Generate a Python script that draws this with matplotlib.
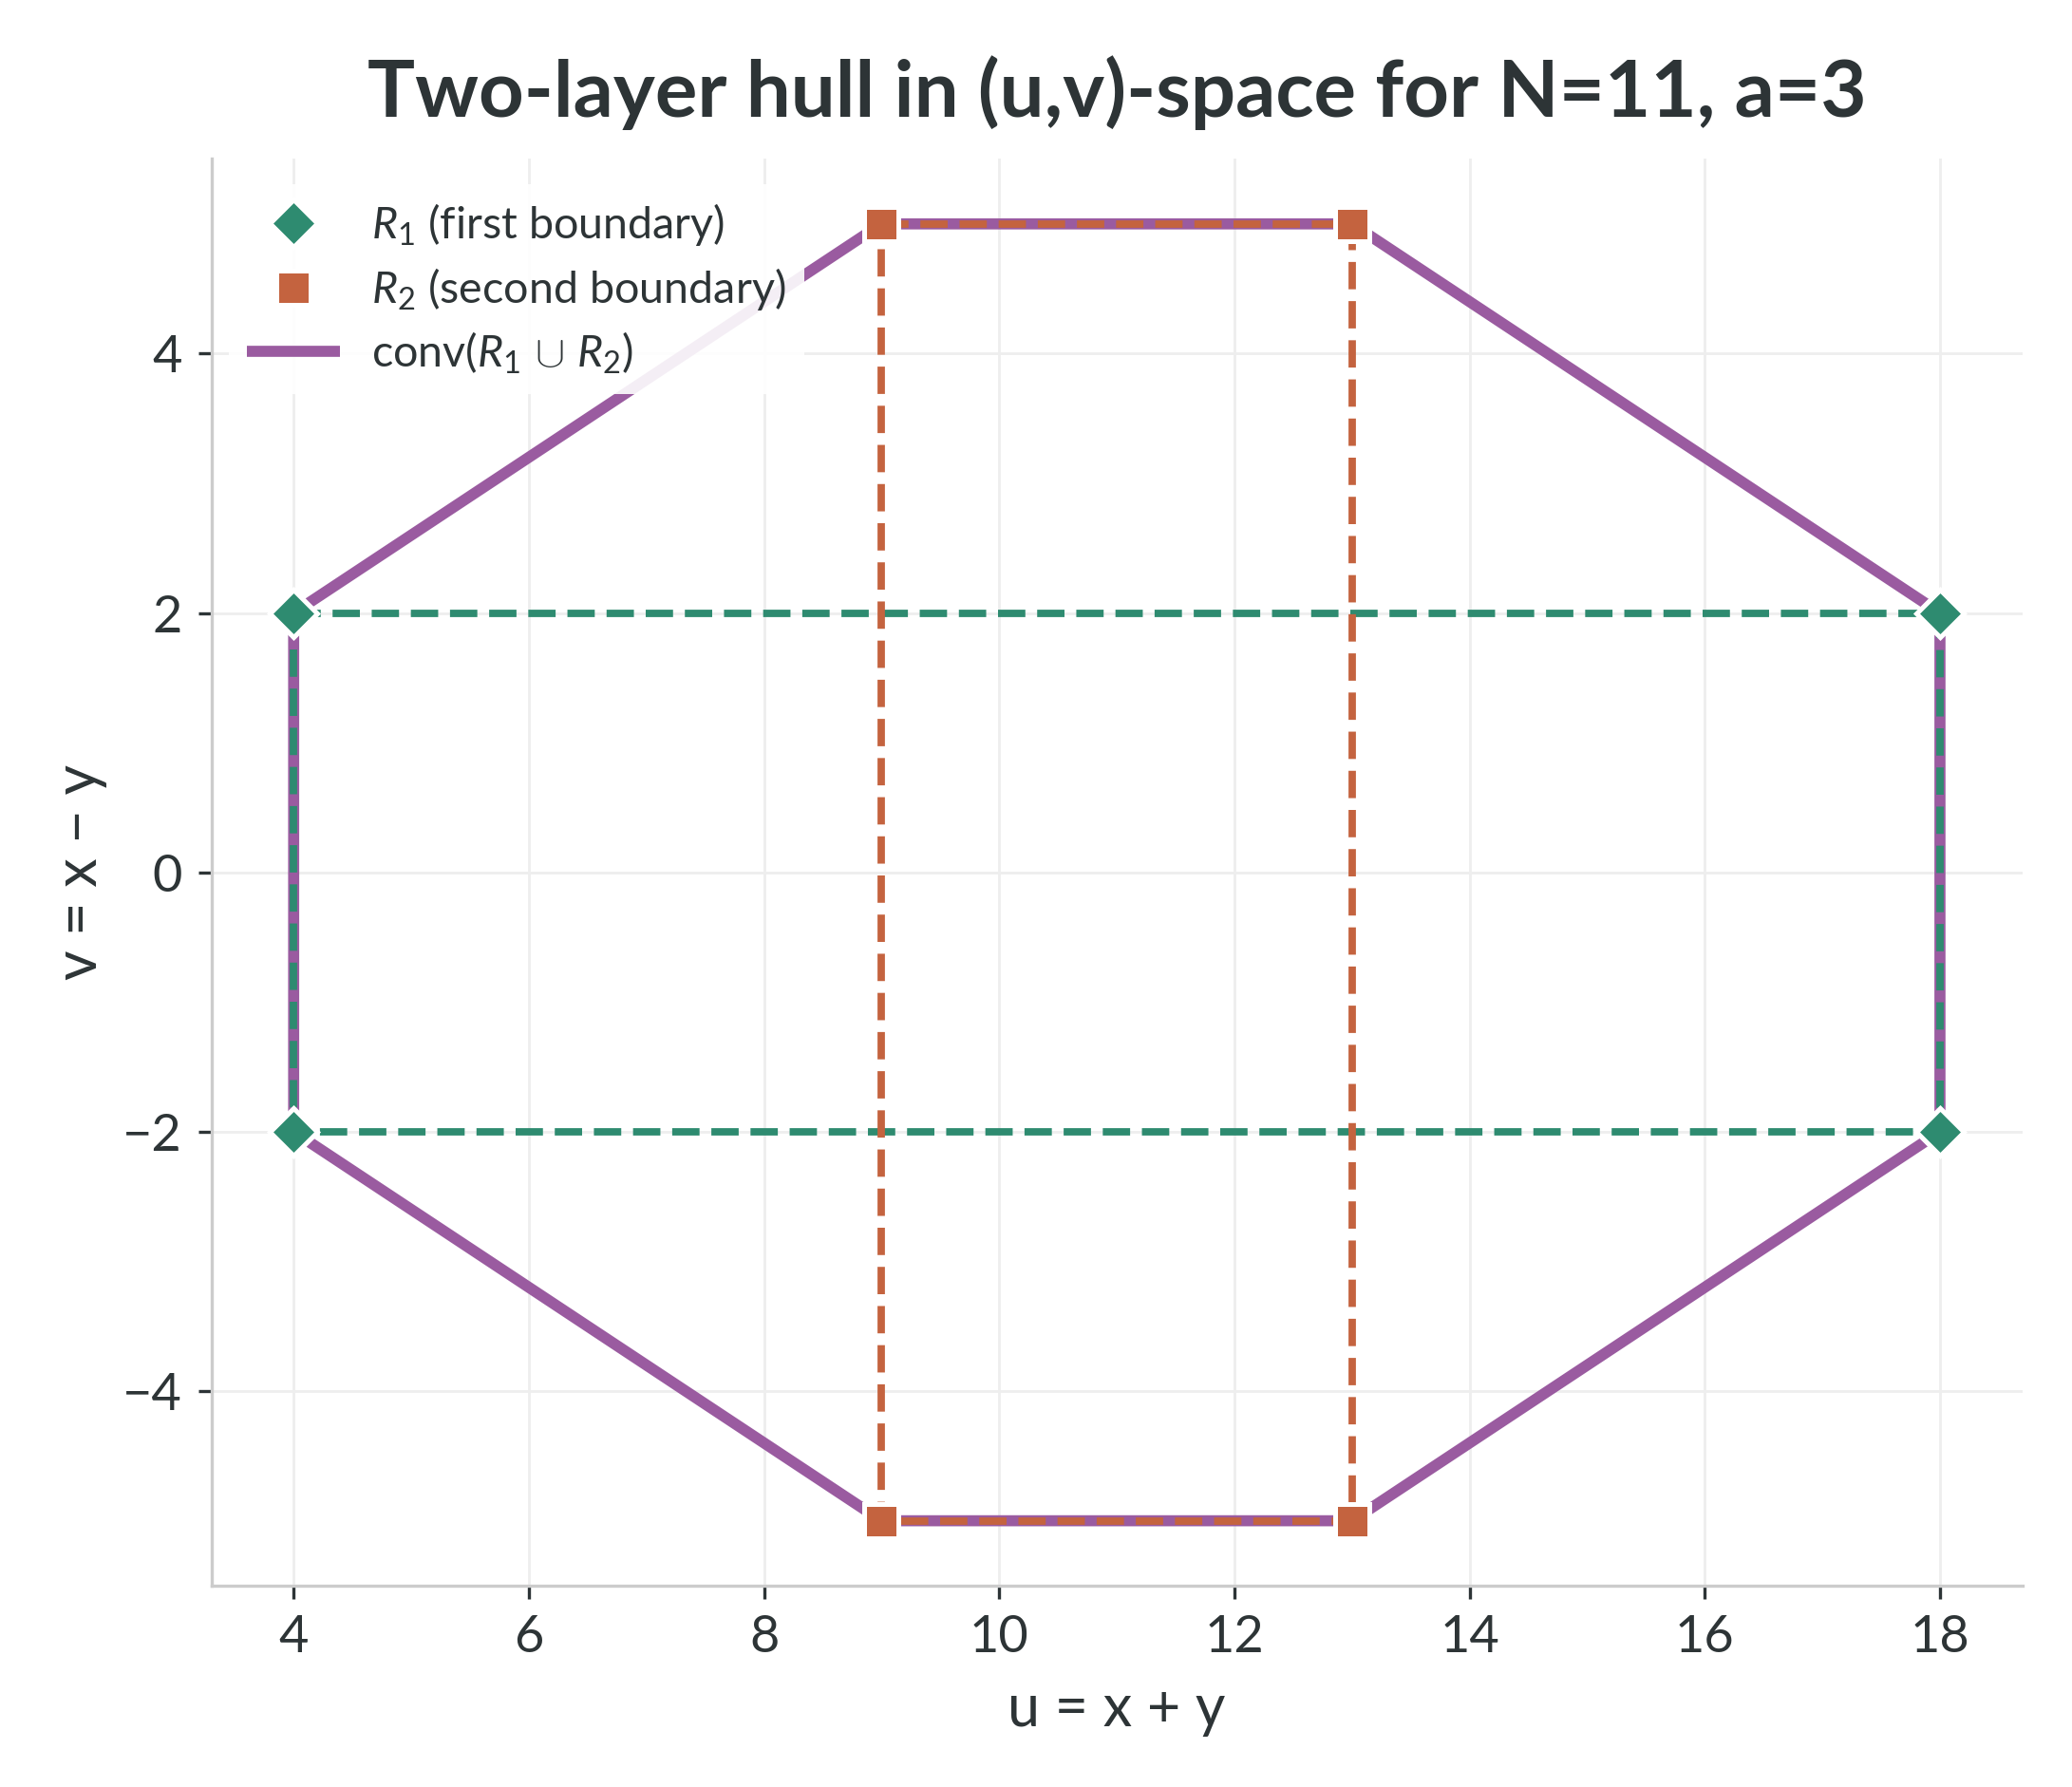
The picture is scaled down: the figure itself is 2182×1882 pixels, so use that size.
import matplotlib
matplotlib.use("Agg")
import matplotlib.pyplot as plt
import numpy as np

plt.rcParams['font.family'] = ['Lato', 'DejaVu Sans']
plt.rcParams['mathtext.fontset'] = 'custom'
plt.rcParams['mathtext.rm'] = 'Lato'
plt.rcParams['mathtext.it'] = 'Lato:italic'
plt.rcParams['mathtext.bf'] = 'Lato:bold'

TEXT = '#2d3436'
GREEN = '#2E8B70'
ORANGE = '#C4633F'
PURPLE = '#9A5BA0'

# first boundary R1 (u, v)
r1_u = [4, 18, 18, 4]
r1_v = [2, 2, -2, -2]
# second boundary R2
r2_u = [9, 13, 13, 9]
r2_v = [5, 5, -5, -5]
# convex hull of R1 u R2
hull_u = [4, 9, 13, 18, 18, 13, 9, 4]
hull_v = [-2, -5, -5, -2, 2, 5, 5, 2]

fig = plt.figure(figsize=(10.91, 9.41), dpi=200)
ax = fig.add_subplot(111)
fig.subplots_adjust(left=0.102, right=0.976, top=0.911, bottom=0.1127)

# hull
ax.plot(hull_u + hull_u[:1], hull_v + hull_v[:1], color=PURPLE, lw=4.2,
        solid_capstyle='butt', zorder=2, label=r'conv($R_1 \,\cup\, R_2$)')
# dashed rectangles
ax.plot(r1_u + r1_u[:1], r1_v + r1_v[:1], color=GREEN, lw=2.8, ls='--', zorder=3)
ax.plot(r2_u + r2_u[:1], r2_v + r2_v[:1], color=ORANGE, lw=2.8, ls='--', zorder=3)
# markers
ax.plot(r1_u, r1_v, ls='none', marker='D', ms=12.5, color=GREEN, mec='white',
        mew=1.8, zorder=5, label=r'$R_1$ (first boundary)')
ax.plot(r2_u, r2_v, ls='none', marker='s', ms=13, color=ORANGE, mec='white',
        mew=1.8, zorder=5, label=r'$R_2$ (second boundary)')

ax.set_xticks(np.arange(4, 19, 2))
ax.set_yticks([-4, -2, 0, 2, 4])
ax.grid(True, color='#eeeeee', lw=1.0, zorder=0)
ax.set_axisbelow(True)

for s in ['top', 'right']:
    ax.spines[s].set_visible(False)
for s in ['left', 'bottom']:
    ax.spines[s].set_color('#cccccc')
    ax.spines[s].set_linewidth(1.2)
ax.tick_params(colors=TEXT, labelsize=19.5, length=5, width=1.2, pad=6)

ax.set_xlabel('u = x + y', fontsize=22, color=TEXT, labelpad=8)
ax.set_ylabel('v = x \u2212 y', fontsize=22, color=TEXT, labelpad=6)
ax.set_title('Two-layer hull in (u,v)-space for N=11, a=3', fontsize=30,
             fontweight='bold', color=TEXT, pad=16)

handles, labels = ax.get_legend_handles_labels()
order = [1, 2, 0]
leg = ax.legend([handles[i] for i in order], [labels[i] for i in order],
                loc='upper left', bbox_to_anchor=(0, 0.995),
                fontsize=16.8, frameon=True, framealpha=0.9,
                edgecolor='none', facecolor='white', borderaxespad=0.4,
                handlelength=2.1, handletextpad=0.72, labelspacing=0.4)
for t in leg.get_texts():
    t.set_color(TEXT)

fig.savefig('out.png', dpi=200)
